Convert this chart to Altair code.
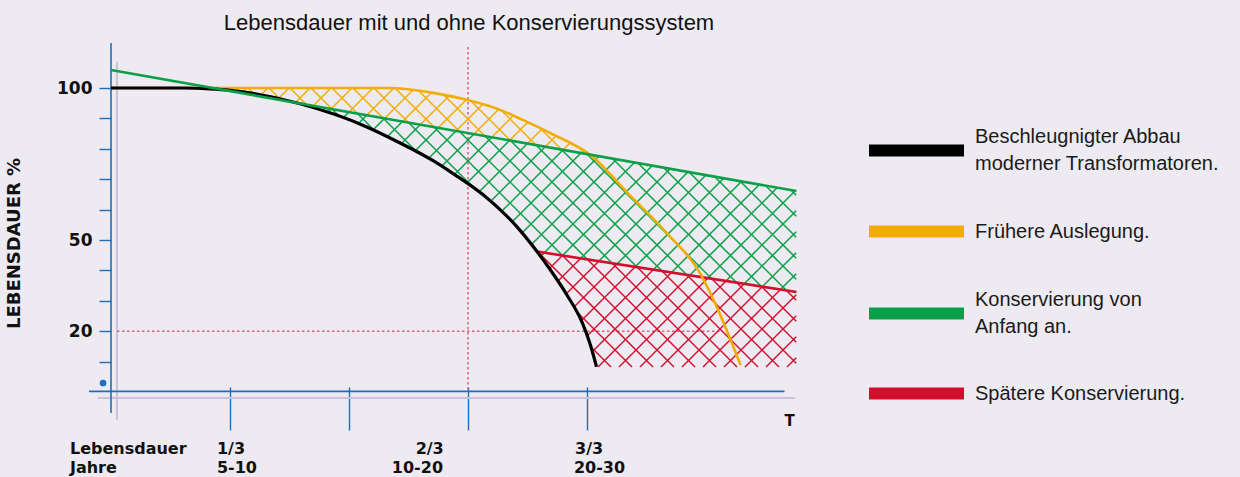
import altair as alt
import numpy as np
import pandas as pd

# ---------------- values ----------------
TITLE = "Lebensdauer mit und ohne Konservierungssystem"
Y_TITLE = "LEBENSDAUER %"
T_TITLE = "T"

legend_labels = [
    "Beschleugnigter Abbau|moderner Transformatoren.",
    "Frühere Auslegung.",
    "Konservierung von|Anfang an.",
    "Spätere Konservierung.",
]
legend_colors = ["#000000", "#F2AD00", "#0AA048", "#D30D2C"]

# T (in tick steps) and Lebensdauer (%)
abbau_t = [0.0, 0.62, 0.83, 1.0, 1.59, 2.15, 2.43, 2.71, 2.85, 3.13, 3.41, 3.58, 3.69, 3.83, 3.96, 4.03, 4.08]
abbau_v = [100.0, 100.0, 99.7, 99.2, 94.8, 87.2, 81.9, 76.0, 72.5, 64.8, 54.4, 46.2, 40.3, 32.0, 22.8, 15.3, 8.3]
frueh_t = [0.0, 0.83, 2.34, 2.71, 2.99, 3.27, 3.46, 3.69, 4.05, 4.34, 4.67, 4.95, 5.09, 5.29]
frueh_v = [100.0, 100.0, 100.0, 98.4, 96.1, 92.8, 89.5, 85.2, 77.3, 65.5, 52.3, 39.1, 28.0, 8.9]
anfang_t = [0.0, 5.76]
anfang_v = [105.9, 66.1]
spaet_t = [3.58, 5.76]
spaet_v = [46.2, 32.9]

y_tick_values = [10, 20, 30, 40, 50, 60, 70, 80, 90, 100]
y_tick_labelled = [100, 50, 20]
x_tick_values = [1, 2, 3, 4]

row_headers = ["Lebensdauer", "Jahre"]
fractions = ["1/3", "2/3", "3/3"]
years = ["5-10", "10-20", "20-30"]

guide_t = 3.0      # dotted vertical guide
guide_v = 20.0     # dotted horizontal guide
hatch_right = 5.76
hatch_bottom = 8.2

# ---------------- layout (pixels) ----------------
PX_T = 119.0
PX_V = 3.04
W, H = 690, 350
LEFT, TOP = 111, 42
BLUE = "#1C6FBC"
FAINT = "#CAC3DA"
DOT = "#E0607E"
BG = "#EEEAF2"
HATCH_SP = 21.0

frac_t = [0.89, 2.56, 3.90]
years_t = [0.89, 2.36, 3.89]
header_t = -0.345
row1_v = (392 - 454) / PX_V
row2_v = (392 - 473) / PX_V


# ---------------- monotone (d3 monotoneX) for hatch clipping ----------------
def mono(xs, ys, xq):
    xs = np.asarray(xs, float)
    ys = np.asarray(ys, float)
    n = len(xs)
    h = np.diff(xs)
    s = np.diff(ys) / h
    t = np.zeros(n)
    if n == 2:
        t[:] = s[0]
    else:
        for i in range(1, n - 1):
            h0, h1 = h[i - 1], h[i]
            s0, s1 = s[i - 1], s[i]
            p = (s0 * h1 + s1 * h0) / (h0 + h1)
            t[i] = (np.sign(s0) + np.sign(s1)) * min(abs(s0), abs(s1), 0.5 * abs(p))
        t[0] = (3 * s[0] - t[1]) / 2
        t[-1] = (3 * s[-1] - t[-2]) / 2
    xq = np.asarray(xq, float)
    idx = np.clip(np.searchsorted(xs, xq) - 1, 0, n - 2)
    hh = h[idx]
    u = (xq - xs[idx]) / hh
    y0, y1 = ys[idx], ys[idx + 1]
    m0, m1 = t[idx] * hh, t[idx + 1] * hh
    h00 = 2 * u**3 - 3 * u**2 + 1
    h10 = u**3 - 2 * u**2 + u
    h01 = -2 * u**3 + 3 * u**2
    h11 = u**3 - u**2
    return h00 * y0 + h10 * m0 + h01 * y1 + h11 * m1


def f_b(t):
    return np.where(t <= abbau_t[-1], mono(abbau_t, abbau_v, t), -np.inf)


def f_o(t):
    return mono(frueh_t, frueh_v, t)


def f_g(t):
    return mono(anfang_t, anfang_v, t)


def f_r(t):
    return mono(spaet_t, spaet_v, t)


def in_orange(t, v):
    ok = (t >= 0.83) & (t <= frueh_t[-1])
    lower = np.maximum(f_g(t), f_b(t))
    return ok & (v > lower) & (v < f_o(t))


def in_green(t, v):
    ok = (t >= 0.83) & (t <= hatch_right)
    lower = np.where(t < spaet_t[0], f_b(t), f_r(t))
    return ok & (v > lower) & (v < f_g(t))


def in_red(t, v):
    ok = (t >= spaet_t[0]) & (t <= hatch_right)
    lower = np.maximum(f_b(t), hatch_bottom)
    return ok & (v > lower) & (v < f_r(t))


def hatch(test, t0, t1, v0, v1):
    segs = []
    u = np.arange(t0 * PX_T, t1 * PX_T, 0.25)
    w0, w1 = v0 * PX_V, v1 * PX_V
    for sgn in (1, -1):
        if sgn == 1:
            cmin, cmax = w0 - u[-1], w1 - u[0]
        else:
            cmin, cmax = w0 + u[0], w1 + u[-1]
        for k in range(int(np.floor(cmin / HATCH_SP)), int(np.ceil(cmax / HATCH_SP)) + 1):
            c = k * HATCH_SP
            w = sgn * u + c
            m = test(u / PX_T, w / PX_V).astype(int)
            d = np.diff(np.concatenate([[0], m, [0]]))
            st = np.where(d == 1)[0]
            en = np.where(d == -1)[0] - 1
            for a, b in zip(st, en):
                if b - a < 3:
                    continue
                segs.append((u[a] / PX_T, w[a] / PX_V, u[b] / PX_T, w[b] / PX_V))
    return pd.DataFrame(segs, columns=["t", "v", "t2", "v2"])


hatch_o = hatch(in_orange, 0.8, 5.3, 0, 101)
hatch_g = hatch(in_green, 0.8, 5.8, 0, 101)
hatch_r = hatch(in_red, 3.5, 5.8, 0, 50)

# ---------------- scales and axes ----------------
xs = alt.Scale(domain=[0, W / PX_T], nice=False, zero=False)
ys = alt.Scale(domain=[0, H / PX_V], nice=False, zero=False)

X_AXIS = alt.Axis(
    values=x_tick_values,
    labels=False,
    domain=False,
    grid=False,
    ticks=True,
    tickColor=BLUE,
    tickWidth=1.4,
    tickSize=43,
    offset=-5,
    title=T_TITLE,
    titleX=678,
    titleY=33,
    titleAlign="center",
    titleBaseline="middle",
    titleFont="DejaVu Sans",
    titleFontWeight="bold",
    titleFontSize=15,
    titleColor="#111111",
)
Y_AXIS = alt.Axis(
    values=y_tick_values,
    labelExpr="indexof(%s, datum.value) >= 0 ? datum.label : ''" % str(y_tick_labelled),
    domain=False,
    grid=False,
    tickColor=BLUE,
    tickWidth=1.4,
    tickSize=12,
    labelFont="DejaVu Sans",
    labelFontWeight="bold",
    labelFontSize=17,
    labelColor="#111111",
    labelPadding=7,
    title=Y_TITLE,
    titleAngle=270,
    titleX=-97,
    titleY=201,
    titleAlign="center",
    titleBaseline="middle",
    titleFont="DejaVu Sans",
    titleFontWeight="bold",
    titleFontSize=18,
    titleColor="#111111",
)


def XE(field="t"):
    return alt.X(f"{field}:Q", scale=xs, axis=X_AXIS)


def YE(field="v"):
    return alt.Y(f"{field}:Q", scale=ys, axis=Y_AXIS)


def seg_layer(df, color, width, dash=None):
    kw = dict(color=color, strokeWidth=width)
    if dash:
        kw["strokeDash"] = dash
    return alt.Chart(df).mark_rule(**kw).encode(x=XE(), y=YE(), x2="t2:Q", y2="v2:Q")


faint = pd.DataFrame({"t": [0.05, -0.11], "v": [108.6, -2.0], "t2": [0.05, 5.75], "v2": [-9.2, -2.0]})
axes_lines = pd.DataFrame({"t": [0.0, -0.185], "v": [114.8, 0.2], "t2": [0.0, 5.66], "v2": [-6.9, 0.2]})
dotted = pd.DataFrame({"t": [guide_t, 0.05], "v": [113.5, guide_v], "t2": [guide_t, 5.14], "v2": [0.0, guide_v]})

# ---------------- curves with two legends ----------------
LEG_COMMON = dict(
    title=None,
    orient="none",
    legendX=752,
    symbolType="M-1,0H1",
    symbolSize=9025,
    symbolStrokeWidth=12,
    labelExpr="split(datum.label, '|')",
    labelFont="Liberation Sans",
    labelFontSize=20,
    labelColor="#1a1a1a",
    labelLimit=500,
    labelOffset=5,
    padding=0,
)
scale_a = alt.Scale(domain=[legend_labels[0], legend_labels[2]], range=[legend_colors[0], legend_colors[2]])
scale_b = alt.Scale(domain=[legend_labels[1], legend_labels[3]], range=[legend_colors[1], legend_colors[3]])
legend_a = alt.Legend(legendY=55, labelBaseline="line-bottom", rowPadding=85, **LEG_COMMON)
legend_b = alt.Legend(legendY=136, labelBaseline="middle", rowPadding=84, **LEG_COMMON)


def line_layer(tt, vv, label, scale, legend, sw):
    df = pd.DataFrame({"t": tt, "v": vv, "series": label, "sw": sw})
    return alt.Chart(df).mark_line(interpolate="monotone").encode(
        x=XE(),
        y=YE(),
        color=alt.Color("series:N", scale=scale, legend=legend),
        strokeWidth=alt.StrokeWidth("sw:Q", scale=None),
    )


red_l = line_layer(spaet_t, spaet_v, legend_labels[3], scale_b, legend_b, 2.6)
orange_l = line_layer(frueh_t, frueh_v, legend_labels[1], scale_b, legend_b, 2.6)
black_l = line_layer(abbau_t, abbau_v, legend_labels[0], scale_a, legend_a, 3.2)
green_l = line_layer(anfang_t, anfang_v, legend_labels[2], scale_a, legend_a, 2.6)

texts_df = pd.DataFrame(
    {
        "label": row_headers + fractions + years,
        "t": [header_t, header_t] + frac_t + years_t,
        "v": [row1_v, row2_v] + [row1_v] * 3 + [row2_v] * 3,
    }
)
texts = alt.Chart(texts_df).mark_text(
    align="left", baseline="alphabetic", font="DejaVu Sans", fontWeight="bold", fontSize=16, color="#111111"
).encode(x=XE(), y=YE(), text="label:N")

dot = alt.Chart(pd.DataFrame({"t": [-0.067], "v": [2.96]})).mark_circle(size=45, color=BLUE, opacity=1).encode(
    x=XE(), y=YE()
)

chart = alt.layer(
    seg_layer(faint, FAINT, 2),
    seg_layer(dotted, DOT, 1.5, [2.5, 2.5]),
    seg_layer(hatch_o, legend_colors[1], 1.5),
    seg_layer(hatch_g, legend_colors[2], 1.5),
    seg_layer(hatch_r, legend_colors[3], 1.5),
    seg_layer(axes_lines, BLUE, 1.6),
    alt.layer(red_l, orange_l),
    alt.layer(black_l, green_l),
    texts,
    dot,
).resolve_scale(
    color="independent"
).properties(
    width=W,
    height=H,
    autosize=alt.AutoSizeParams(type="none"),
    padding={"left": LEFT, "top": TOP, "right": 1240 - LEFT - W, "bottom": 477 - TOP - H},
    title=alt.TitleParams(
        TITLE,
        font="Liberation Sans",
        fontSize=22,
        fontWeight="normal",
        color="#111111",
        anchor="middle",
        frame="group",
        dx=13,
        dy=20,
        offset=10,
        baseline="alphabetic",
    ),
).configure(
    background=BG,
    style={"guide-label": {"lineHeight": 27}},
).configure_view(strokeWidth=0)

chart.save("out.html", embed_options={"renderer": "svg", "actions": False})
